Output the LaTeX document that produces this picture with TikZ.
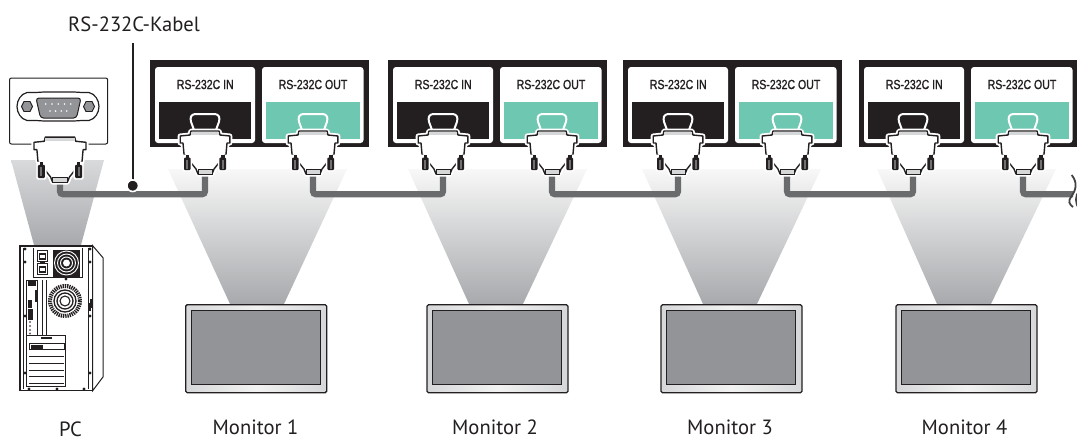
\documentclass[tikz,border=0pt]{standalone}
\usepackage{fontspec}
\setmainfont{PT Sans}
\newfontfamily\lab[FakeStretch=0.8,FakeBold=1.2]{Liberation Sans}
\definecolor{ink}{HTML}{231F20}
\definecolor{teal}{HTML}{6EC7B1}
\definecolor{cab}{HTML}{6A6B6D}
\definecolor{scr}{HTML}{929497}
\definecolor{bez}{HTML}{D6D7D9}
\definecolor{sh}{HTML}{A7A9AC}
\definecolor{beamtopa}{HTML}{D9DADC}
\definecolor{beamtopb}{HTML}{F8F8F8}
\tikzset{
 x=1pt,y=-1pt,
 caption/.style={font=\fontsize{20.6}{22}\selectfont,text=ink,inner sep=0pt,anchor=base},
 portlab/.style={font=\lab\fontsize{13.2}{15}\selectfont,text=ink,inner sep=0pt},
 cable/.style={draw=cab,line width=6.2pt,rounded corners=3pt},
 fine/.style={draw=ink,line width=.7pt},
 med/.style={draw=ink,line width=1pt},
 beam/.style={top color=#1,bottom color=sh,draw=none},
 plugbody/.pic={
  \def\bodypath{(-14,1) -- (14,1) -- (15,5) -- (24.8,6) -- (24.8,13) -- (22,13) -- (21,24) -- (9,39) -- (7,44) -- (-7,44) -- (-9,39) -- (-21,24) -- (-22,13) -- (-24.8,13) -- (-24.8,6) -- (-15,5) -- cycle}
  \draw[white,line width=5pt,fill=white,line join=round] \bodypath;
  \draw[ink,line width=1.4pt,fill=white,line join=round] \bodypath;
  \fill[bez] (-14,2.2) rectangle (14,5);
  \draw[ink,line width=.8pt,fill=bez] (-7,39.5) rectangle (7,44);
  \foreach \s in {-1,1}{
    \fill[white,rounded corners=1.5pt] (\s*12.8,24.5) rectangle (\s*22.6,41.5);
    \fill[ink] (\s*16,24.5) rectangle (\s*19.5,29);
    \fill[ink,rounded corners=1pt] (\s*14.3,27.5) rectangle (\s*21,40);
    \fill[scr!70!ink] (\s*17,29.5) rectangle (\s*18.6,38.5);
  }
 },
 plugtop/.pic={
  \draw[white,line width=2pt,line join=round,rounded corners=3pt] (-11,0) -- (-15,-11) -- (-13,-16) -- (13,-16) -- (15,-11) -- (11,0);
 },
}
\begin{document}
\begin{tikzpicture}
\useasboundingbox (0,0) rectangle (1077,440);
\clip (0,0) rectangle (1077,440);

% beams
\shade[beam=beamtopa] (11,160) -- (104,160) -- (81,245) -- (34,245) -- cycle;
\foreach \a/\b/\c in {168/230/1,408/469/2,642/703/3,877/937/4}{
  \pgfmathsetmacro{\w}{\a+179}\pgfmathsetmacro{\bb}{\b+54}
  \shade[beam=beamtopb] (\a,169) -- (\w,169) -- (\bb,304) -- (\b,304) -- cycle;
}

% port panels
\foreach \px/\n in {150/1,388/2,623/3,859/4}{
 \begin{scope}[shift={(\px,60)}]
  \fill[ink] (0,0) rectangle (219,87);
  \fill[white,rounded corners=3pt] (5,7) rectangle (105,83);
  \fill[white,rounded corners=3pt] (112,7) rectangle (213.5,83);
  \fill[ink] (9,42) rectangle (101,79);
  \fill[teal] (116,42) rectangle (209.5,79);
  \node[portlab] (inlab\n) at (55.3,24.5) {RS-232C IN};
  \node[portlab] (outlab\n) at (163,24.5) {RS-232C OUT};
 \end{scope}
}

% connector anchors
\coordinate (pc) at (60,181);
\foreach \x/\n in {205/1,443/2,678/3,913/4}{\coordinate (in\n) at (\x,174);}
\foreach \x/\n in {313/1,552/2,787/3,1023/4}{\coordinate (out\n) at (\x,174);}
\coordinate (j0) at (133,194.3);
\coordinate (j1) at (380,194.3);
\coordinate (j2) at (610,194.3);
\coordinate (j3) at (850,194.3);
\coordinate (cableend) at (1073,194.3);

% cable
\draw[cable] (pc) |- (j0) -| (in1);
\draw[cable] (out1) |- (j1) -| (in2);
\draw[cable] (out2) |- (j2) -| (in3);
\draw[cable] (out3) |- (j3) -| (in4);
\draw[cable] (out4) |- (cableend);
\draw[ink!85,line width=1.8pt] (1071.7,175) .. controls (1078,183) and (1076,190) .. (1071,197) .. controls (1068,201) and (1069,204) .. (1073,207);
\draw[ink!85,line width=1.8pt] (1079,191) .. controls (1075,196) and (1075,203) .. (1079,209);

% PC port box
\draw[med,fill=white,rounded corners=2pt] (9.5,78) rectangle (107.7,144);
\draw[ink,line width=1.2pt,fill=white] (27,92.5) -- (36,92.5) .. controls (40,92) .. (44,92) -- (74,92) .. controls (78,92) .. (82,92.5) -- (89,92.5) .. controls (95,94) and (99,100) .. (99,106.5) .. controls (99,113) and (95,119) .. (89,120.5) -- (82,120.5) .. controls (78,121) .. (74,121) -- (44,121) .. controls (40,121) .. (36,120.5) -- (27,120.5) .. controls (21,119) and (17,113) .. (17,106.5) .. controls (17,100) and (21,94) .. (27,92.5) -- cycle;
\draw[ink,line width=1pt,fill=scr,rounded corners=3pt] (36,98) -- (81,98) -- (76.5,118) -- (40.5,118) -- cycle;
\draw[ink,line width=.9pt,fill=scr] (21.5,106.5) -- (24,101.5) -- (30,101.5) -- (32.5,106.5) -- (30,111.5) -- (24,111.5) -- cycle;
\draw[ink,line width=.9pt,fill=scr] (83.5,106.5) -- (86,101.5) -- (92,101.5) -- (94.5,106.5) -- (92,111.5) -- (86,111.5) -- cycle;
\foreach \x in {45.7,52,58.2,64.5,70.7}{\fill[white] (\x,104) circle (.9);}
\foreach \x in {50,55.6,61.2,66.7}{\fill[white] (\x,111) circle (.9);}

% connectors
\path (60,136) pic[scale=1.05] {plugbody};
\foreach \x in {205,443,678,913,313,552,787,1023}{
  \path (\x,130) pic {plugtop};
  \path (\x,130) pic {plugbody};
}

% cable label leader
\coordinate (leadtop) at (132.7,43);
\coordinate (dot) at (132.7,185.7);
\draw[ink,line width=2.2pt] (leadtop) -- (dot);
\draw[white,line width=1.6pt,fill=ink] (dot) circle (5.8);
\node[caption] (cablelabel) at (134,31) {RS-232C-Kabel};

% monitors
\foreach \x/\n in {185.7/1,427/2,661/3,896/4}{
 \begin{scope}[shift={(\x,304.7)}]
  \draw[ink,line width=1.3pt,left color=bez,right color=bez,middle color=gray!10,rounded corners=1.5pt] (0,0) rectangle (141,88);
  \draw[ink,line width=.9pt,fill=scr] (5.5,5.5) rectangle (134.5,79.5);
 \end{scope}
}
\foreach \x/\n in {255.5/1,495/2,730/3,964.5/4}{
  \node[caption] (mon\n) at (\x,434.5) {Monitor \n};
}
\node[caption] (pclabel) at (70.5,436.5) {PC};

% PC tower
\draw[med,fill=white] (92.7,245.7) -- (103.2,258) -- (103.2,376.7) -- (92.7,390.7) -- cycle;
\draw[ink,line width=1.4pt,fill=white] (20,245.7) rectangle (92.7,390.7);
\draw[ink,line width=1.6pt] (20,246) -- (92.7,246);
\draw[fine] (23,247.5) -- (23,388.5);
\draw[med] (88,247.5) -- (88,388.5);
\draw[med] (33,248) -- (33,277) -- (82,277) -- (82,248);
% power sockets
\foreach \y in {256,269}{
  \draw[ink,line width=1pt,fill=white] (37,\y-5.5) rectangle (47.5,\y+5.5);
  \fill[ink] (38.5,\y-3.5) rectangle (46,\y+3.5);
  \fill[white] (40,\y-1.5) rectangle (44.5,\y+1.5);
}
\fill[ink] (40,261.5) rectangle (44.5,263.5);
% top fan
\fill[ink] (53,250) rectangle (80,276.5);
\foreach \r in {12,9,6}{\draw[white,line width=.9pt] (66.5,263) circle (\r);}
\fill[white] (66.5,263) circle (3.5);
% lower fan
\draw[ink,line width=4pt,dash pattern=on 1.3pt off .9pt] (65,301) circle (15);
\draw[ink,line width=1.3pt] (65,301) circle (11);
\draw[ink,line width=1.3pt] (65,301) circle (8);
\draw[ink,line width=1.1pt] (65,301) circle (5);
% io block
\draw[med] (26.7,335) -- (26.7,280) -- (37.5,280) -- (37.5,335);
\draw[fine] (42,280) -- (42,335) -- (46,335) -- (46,280);
\fill[ink] (28,281) rectangle (36,286);
\fill[ink] (35,290) rectangle (38,302);
\fill[ink] (28,300) rectangle (31.5,308);
\fill[ink] (28,309) rectangle (32.5,320);
\foreach \y in {322,326,330,333.5}{\fill[ink!70] (30,\y) circle (1.2);}
% card cage
\draw[med,fill=white] (26.7,335) rectangle (65,386.7);
\fill[ink] (41,336.5) rectangle (52,339);
\foreach \y in {343,349.5,356.5,363,370,376.5,383}{\draw[med] (29,\y) -- (64,\y);}
\draw[fine] (29,343) rectangle (64,349.5);
\fill[ink] (31,344.5) rectangle (43,348.5);
% screws
\foreach \p in {(25,249),(25,262),(25,316),(25,373),(29,389),(57,389),(84,389),(90,373),(90,316),(90,262),(90,249),(66,279)}{\fill[ink] \p circle (1.6);}
\fill[ink] (90,299) rectangle (92,308);
\fill[ink] (88,303) rectangle (91,311);
\end{tikzpicture}
\end{document}
